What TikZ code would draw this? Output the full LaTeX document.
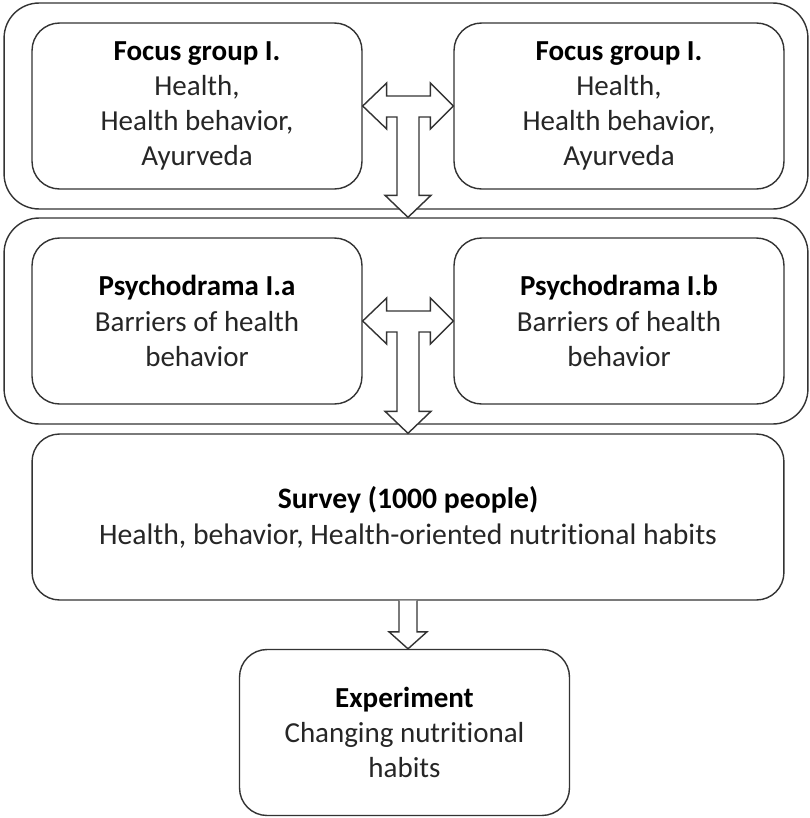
\documentclass[tikz,border=0pt]{standalone}
\usepackage{fontspec}
\setmainfont{Carlito}[Ligatures=NoCommon]
\usetikzlibrary{%
  positioning,%
  calc%
}

\begin{document}
\begin{tikzpicture}[
  x=0.02cm, y=-0.02cm, line width=0.8pt,
  font=\fontsize{16.5pt}{20pt}\selectfont,
  outerbox/.style={rectangle, minimum width=16.08cm, minimum height=4.12cm, draw=black!80, rounded corners=0.7cm},
  stagebox/.style={rectangle, minimum width=6.6cm, minimum height=3.32cm, draw=black!80, fill=white, rounded corners=0.55cm, align=center, text=black!85},
  widebox/.style={stagebox, minimum width=15.04cm, font=\fontsize{16.9pt}{20.5pt}\selectfont},
  blockarrow/.style={draw=black!80, fill=white, line join=miter}
]
\useasboundingbox (0,0) rectangle (810,818);

\node[outerbox] (frameA) at (406,106) {};
\node[outerbox] (frameB) at (406,321) {};

\node[stagebox] (fgA) at (197,106) {\textbf{\color{black}Focus group I.}\\Health,\\Health behavior,\\Ayurveda};
\node[stagebox] (fgB) at (619,106) {\textbf{\color{black}Focus group I.}\\Health,\\Health behavior,\\Ayurveda};
\node[stagebox] (pdA) at (197,321) {\textbf{\color{black}Psychodrama I.a}\\Barriers of health\\behavior};
\node[stagebox] (pdB) at (619,321) {\textbf{\color{black}Psychodrama I.b}\\Barriers of health\\behavior};
\node[widebox] (survey) at (408,517) {\textbf{\color{black}Survey (1000 people)}\\Health, behavior, Health-oriented nutritional habits};
\node[stagebox] (experiment) at (404.5,732.5) {\textbf{\color{black}Experiment}\\Changing nutritional\\habits};

% T-shaped block arrows
\foreach \a/\b/\t in {fgA/fgB/frameB, pdA/pdB/survey} {
  \coordinate (m) at ($(\a.east)!0.5!(\b.west)$);
  \coordinate (t) at (m |- \t.north);
  \draw[blockarrow] (\a.east) -- ++(24,-23) -- ++(0,13)
    -- ($(\b.west)+(-23,-10)$) -- ($(\b.west)+(-23,-23)$) -- (\b.west)
    -- ++(-23,23) -- ++(0,-12) -- ($(m)+(11,11)$) -- ($(t)+(11,-22)$)
    -- ++(12,0) -- (t) -- ++(-23,-22) -- ++(12,0) -- ($(m)+(-11,11)$)
    -- ($(\a.east)+(24,11)$) -- ++(0,12) -- cycle;
}

\coordinate (b) at (survey.south |- experiment.north);
\draw[blockarrow] ($(survey.south)+(-9,0)$) -- ($(b)+(-9,-17)$) -- ++(-10,0)
  -- (b) -- ++(19,-17) -- ++(-10,0) -- ($(survey.south)+(9,0)$);
\end{tikzpicture}
\end{document}
